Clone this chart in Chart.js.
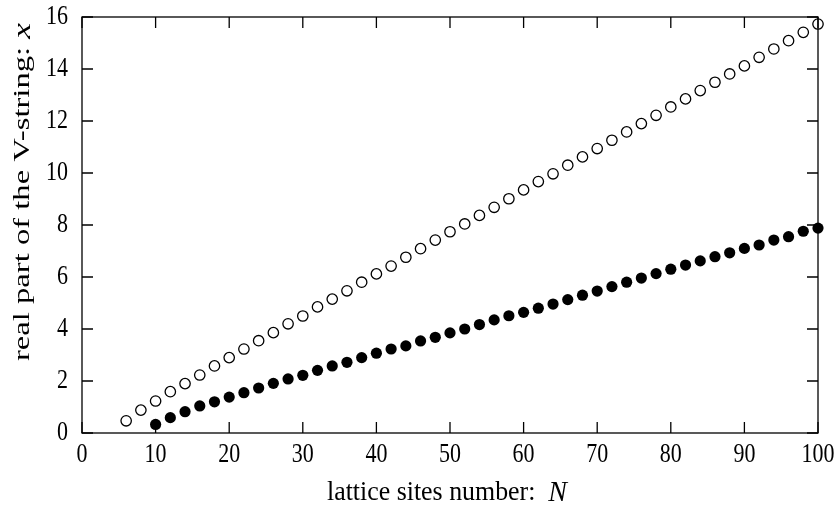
<!DOCTYPE html>
<html>
<head>
<meta charset="utf-8">
<script src="https://cdn.jsdelivr.net/npm/chart.js@4/dist/chart.umd.min.js"></script>
<style>
  html, body { margin: 0; padding: 0; background: #fff; }
  #wrap { width: 834px; height: 508px; }
</style>
</head>
<body>
<div id="wrap"><canvas id="vChart"></canvas></div>
<script>
// lattice sites N and real part x of the V-string
const nOpen = [6, 8, 10, 12, 14, 16, 18, 20, 22, 24, 26, 28, 30, 32, 34, 36, 38, 40, 42, 44, 46, 48, 50, 52,
               54, 56, 58, 60, 62, 64, 66, 68, 70, 72, 74, 76, 78, 80, 82, 84, 86, 88, 90, 92, 94, 96, 98, 100];
const xOpen = [0.47, 0.88, 1.23, 1.59, 1.90, 2.23, 2.58, 2.90, 3.23, 3.55, 3.86, 4.20, 4.50, 4.85, 5.15, 5.47,
               5.80, 6.12, 6.42, 6.76, 7.09, 7.42, 7.74, 8.04, 8.37, 8.68, 9.01, 9.35, 9.67, 9.97, 10.30, 10.62,
               10.94, 11.26, 11.58, 11.90, 12.22, 12.54, 12.85, 13.17, 13.49, 13.81, 14.12, 14.45, 14.77, 15.09, 15.41, 15.73];

const nFilled = [10, 12, 14, 16, 18, 20, 22, 24, 26, 28, 30, 32, 34, 36, 38, 40, 42, 44, 46, 48, 50, 52, 54,
                 56, 58, 60, 62, 64, 66, 68, 70, 72, 74, 76, 78, 80, 82, 84, 86, 88, 90, 92, 94, 96, 98, 100];
const xFilled = [0.33, 0.59, 0.82, 1.04, 1.20, 1.38, 1.55, 1.73, 1.91, 2.08, 2.22, 2.41, 2.58, 2.72, 2.90, 3.07,
                 3.23, 3.35, 3.54, 3.68, 3.85, 4.00, 4.17, 4.35, 4.51, 4.64, 4.80, 4.96, 5.13, 5.30, 5.46, 5.63,
                 5.80, 5.96, 6.13, 6.30, 6.46, 6.62, 6.78, 6.93, 7.10, 7.23, 7.42, 7.55, 7.76, 7.88];

const xTitle = ['lattice sites number:  ', 'N'];
const yTitle = ['real part of the V-string: ', 'x'];

const serif = '"Liberation Serif", "DejaVu Serif", serif';

// text in the reference is a bit taller than wide, so labels are drawn here with a stretch
function stretchedText(ctx, text, x, y, font, sy, align) {
    ctx.save();
    ctx.font = font;
    ctx.textAlign = align;
    ctx.textBaseline = 'middle';
    ctx.translate(x, y);
    ctx.scale(1, sy);
    ctx.fillText(text, 0, 0);
    ctx.restore();
}

// mixed upright/italic title, scaled along its length to `len` and across by `sy`
function mixedTitle(ctx, parts, fonts, len, sy) {
    let w = 0;
    parts.forEach((p, i) => { ctx.font = fonts[i]; w += ctx.measureText(p).width; });
    const sx = len / w;
    ctx.save();
    ctx.scale(sx, sy);
    let x = -w / 2;
    ctx.textBaseline = 'middle';
    ctx.textAlign = 'left';
    parts.forEach((p, i) => {
        ctx.font = fonts[i];
        ctx.fillText(p, x, 0);
        x += ctx.measureText(p).width;
    });
    ctx.restore();
}

// inward ticks on all four sides, frame, tick labels, axis titles
const framePlugin = {
    id: 'frame',
    afterDraw(chart) {
        const ctx = chart.ctx;
        const a = chart.chartArea;
        const xs = chart.scales.x, ys = chart.scales.y;
        const len = 11;
        ctx.save();
        ctx.strokeStyle = '#000';
        ctx.fillStyle = '#000';
        ctx.lineWidth = 1.3;
        ctx.strokeRect(a.left, a.top, a.right - a.left, a.bottom - a.top);
        ctx.beginPath();
        xs.ticks.forEach(t => {
            const px = xs.getPixelForValue(t.value);
            ctx.moveTo(px, a.bottom); ctx.lineTo(px, a.bottom - len);
            ctx.moveTo(px, a.top); ctx.lineTo(px, a.top + len);
        });
        ys.ticks.forEach(t => {
            const py = ys.getPixelForValue(t.value);
            ctx.moveTo(a.left, py); ctx.lineTo(a.left + len, py);
            ctx.moveTo(a.right, py); ctx.lineTo(a.right - len, py);
        });
        ctx.stroke();

        const tickFont = '22px ' + serif;
        xs.ticks.forEach(t => {
            stretchedText(ctx, String(t.value), xs.getPixelForValue(t.value), a.bottom + 22, tickFont, 1.2, 'center');
        });
        ys.ticks.forEach(t => {
            stretchedText(ctx, String(t.value), a.left - 14, ys.getPixelForValue(t.value), tickFont, 1.2, 'right');
        });

        ctx.save();
        ctx.translate(447, 493);
        mixedTitle(ctx, xTitle, ['24px ' + serif, 'italic 26px ' + serif], 240, 1.15);
        ctx.restore();

        ctx.save();
        ctx.translate(23, 192);
        ctx.rotate(-Math.PI / 2);
        mixedTitle(ctx, yTitle, ['23px ' + serif, 'italic 25px ' + serif], 338, 1.0);
        ctx.restore();

        ctx.restore();
    }
};

const ctx = document.getElementById('vChart').getContext('2d');
const chart = new Chart(ctx, {
    type: 'scatter',
    data: {
        datasets: [{
            label: 'open',
            data: nOpen.map((n, i) => ({x: n, y: xOpen[i]})),
            pointRadius: 5.2,
            pointBackgroundColor: '#fff',
            pointBorderColor: '#000',
            pointBorderWidth: 1.3,
            clip: false
        }, {
            label: 'filled',
            data: nFilled.map((n, i) => ({x: n, y: xFilled[i]})),
            pointRadius: 5.6,
            pointBackgroundColor: '#000',
            pointBorderColor: '#000',
            pointBorderWidth: 0,
            clip: false
        }]
    },
    options: {
        responsive: true,
        maintainAspectRatio: false,
        animation: false,
        layout: { padding: { left: 0, right: 16, top: 17, bottom: 0 } },
        plugins: { legend: { display: false }, tooltip: { enabled: false } },
        scales: {
            x: {
                type: 'linear', min: 0, max: 100,
                grid: { display: false, drawTicks: false },
                border: { display: false },
                ticks: { stepSize: 10, display: false },
                afterFit: s => { s.height = 75; s.paddingLeft = 0; s.paddingRight = 0; }
            },
            y: {
                type: 'linear', min: 0, max: 16,
                grid: { display: false, drawTicks: false },
                border: { display: false },
                ticks: { stepSize: 2, display: false },
                afterFit: s => { s.width = 82; s.paddingTop = 0; s.paddingBottom = 0; }
            }
        }
    },
    plugins: [framePlugin]
});
</script>
</body>
</html>
